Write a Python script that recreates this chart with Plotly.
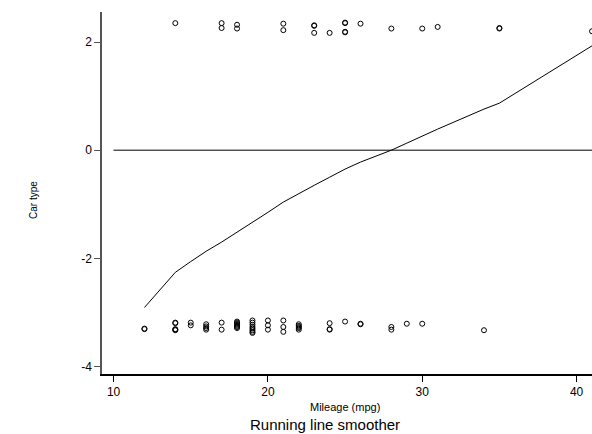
import plotly.graph_objects as go

# Foreign cars (jittered logit scale, top band)
foreign_mpg = [14, 17, 17, 18, 18, 21, 21, 23, 23, 23, 24, 25, 25, 25, 25, 26, 28, 30, 31, 35, 35, 41]
foreign_y = [2.35, 2.35, 2.26, 2.32, 2.25, 2.34, 2.22, 2.31, 2.30, 2.17, 2.17, 2.36, 2.35, 2.19, 2.18, 2.34, 2.25, 2.25, 2.28, 2.26, 2.25, 2.20]

# Domestic cars (jittered logit scale, bottom band)
domestic_mpg = [12, 12,
                14, 14, 14, 14, 14,
                15, 15,
                16, 16, 16, 16,
                17, 17,
                18, 18, 18, 18, 18, 18, 18,
                19, 19, 19, 19, 19, 19, 19, 19,
                20, 20, 20,
                21, 21, 21,
                22, 22, 22, 22, 22,
                24, 24, 24,
                25,
                26, 26,
                28, 28,
                29, 30, 34]
domestic_y = [-3.30, -3.31,
              -3.19, -3.20, -3.31, -3.32, -3.33,
              -3.19, -3.24,
              -3.22, -3.26, -3.29, -3.32,
              -3.19, -3.32,
              -3.17, -3.19, -3.21, -3.23, -3.25, -3.27, -3.29,
              -3.15, -3.19, -3.23, -3.27, -3.30, -3.33, -3.36, -3.38,
              -3.15, -3.24, -3.32,
              -3.15, -3.27, -3.36,
              -3.22, -3.25, -3.27, -3.29, -3.32,
              -3.20, -3.31, -3.32,
              -3.17,
              -3.21, -3.22,
              -3.27, -3.32,
              -3.21, -3.21, -3.33]

# Running line smoother (logit scale)
smooth_mpg = [12, 14, 15, 16, 17, 18, 19, 20, 21, 22, 23, 24, 25, 26, 28, 29, 30, 31, 34, 35, 41]
smooth_y = [-2.91, -2.26, -2.06, -1.87, -1.70, -1.52, -1.33, -1.15, -0.96, -0.80, -0.65,
            -0.50, -0.35, -0.22, 0.0, 0.13, 0.26, 0.39, 0.76, 0.87, 1.93]

ref_x = [10, 42]
ref_y = [0, 0]

x_ticks = [10, 20, 30, 40]
y_ticks = [-4, -2, 0, 2]

FONT = "Liberation Sans, Arial, Helvetica, sans-serif"

fig = go.Figure()
fig.add_trace(go.Scatter(x=ref_x, y=ref_y, mode="lines",
                         line=dict(color="black", width=1), showlegend=False))
fig.add_trace(go.Scatter(x=smooth_mpg, y=smooth_y, mode="lines",
                         line=dict(color="black", width=1), showlegend=False))
fig.add_trace(go.Scatter(x=foreign_mpg, y=foreign_y, mode="markers",
                         marker=dict(symbol="circle-open", size=5, color="black",
                                     line=dict(width=1, color="black")),
                         showlegend=False))
fig.add_trace(go.Scatter(x=domestic_mpg, y=domestic_y, mode="markers",
                         marker=dict(symbol="circle-open", size=5, color="black",
                                     line=dict(width=1, color="black")),
                         showlegend=False))

W, H = 592, 434
L, R, T, B = 102, 0, 12, 60
pw, ph = W - L - R, H - T - B

def px(xp):
    return (xp - L) / pw

def py(yp):
    return (H - B - yp) / ph

fig.update_layout(
    width=W, height=H,
    margin=dict(l=L, r=R, t=T, b=B),
    paper_bgcolor="white", plot_bgcolor="white",
    font=dict(family=FONT, size=11, color="black"),
    xaxis=dict(range=[9.25, 41.0], tickmode="array", tickvals=x_ticks,
               ticktext=[str(v) for v in x_ticks],
               showgrid=False, zeroline=False, showline=True,
               linecolor="black", linewidth=1.5, ticks="outside", ticklen=6,
               tickcolor="black", tickwidth=1,
               tickfont=dict(size=12, color="black"), mirror=False),
    yaxis=dict(range=[-4.14, 2.556], tickmode="array", tickvals=y_ticks,
               ticktext=[str(v) for v in y_ticks],
               showgrid=False, zeroline=False, showline=True,
               linecolor="#555555", linewidth=1.5, ticks="outside", ticklen=6,
               tickcolor="#555555", tickwidth=1,
               tickfont=dict(size=12, color="black")),
    annotations=[
        dict(text="Car type", x=px(33), y=py(200), xref="paper", yref="paper",
             showarrow=False, textangle=-90,
             font=dict(size=10, family=FONT, color="black"),
             xanchor="center", yanchor="middle"),
        dict(text="Mileage (mpg)", x=px(345), y=py(407), xref="paper", yref="paper",
             showarrow=False, font=dict(size=11, family=FONT, color="black"),
             xanchor="center", yanchor="middle"),
        dict(text="Running line smoother", x=px(325), y=py(425), xref="paper", yref="paper",
             showarrow=False, font=dict(size=15, family=FONT, color="black"),
             xanchor="center", yanchor="middle"),
    ],
)

fig.write_html("out.html")
